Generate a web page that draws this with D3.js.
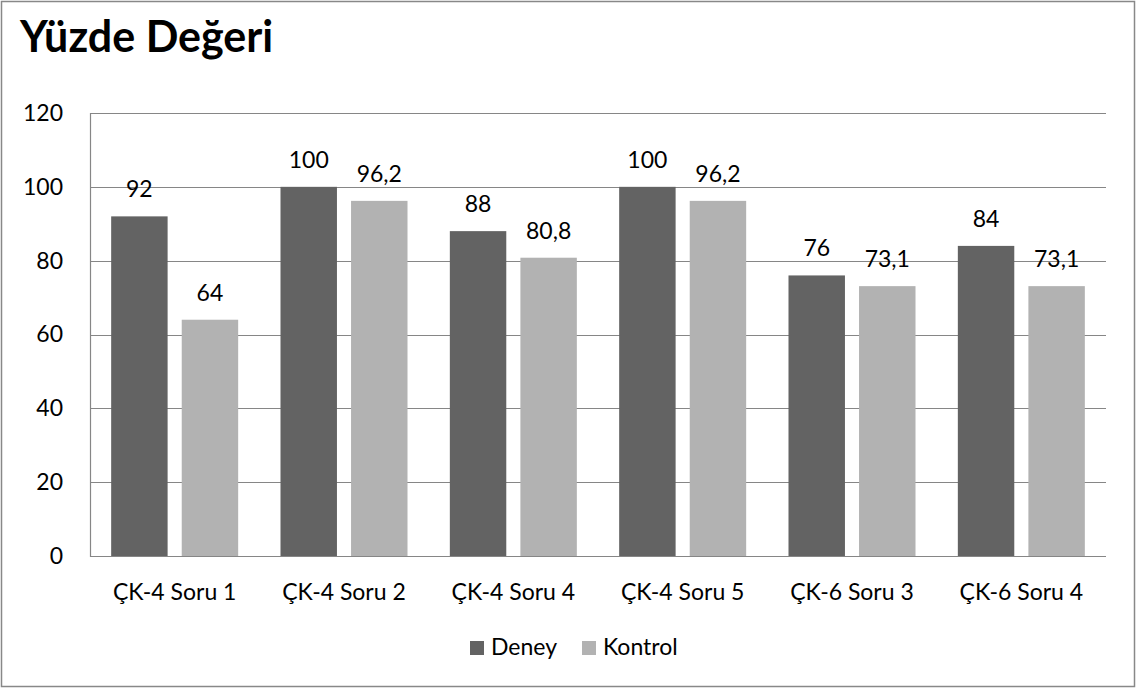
<!DOCTYPE html>
<html><head><meta charset="utf-8">
<script src="https://cdn.jsdelivr.net/npm/d3@7"></script>
<style>body{margin:0;background:#fff}svg{display:block}text{font-family:Lato,"Open Sans",sans-serif}</style>
</head><body>
<svg id="c" width="1136" height="688"></svg>
<script>
const categories = ["ÇK-4 Soru 1","ÇK-4 Soru 2","ÇK-4 Soru 4","ÇK-4 Soru 5","ÇK-6 Soru 3","ÇK-6 Soru 4"];
const seriesNames = ["Deney","Kontrol"];
const deney = [92,100,88,100,76,84];
const kontrol = [64,96.2,80.8,96.2,73.1,73.1];
const yTicks = [0,20,40,60,80,100,120];
const colors = {"Deney":"#636363","Kontrol":"#b2b2b2"};
const title = "Yüzde Değeri";

const FS = 23;
const svg = d3.select("#c");
const W=1136,H=688;
const L=90,R=1106,T=113,B=556;
svg.append("rect").attr("x",1.5).attr("y",1.5).attr("width",W-3).attr("height",H-3)
  .attr("fill","#fff").attr("stroke","#888").attr("stroke-width",1.5);

svg.append("text").attr("x",20).attr("y",52).attr("font-size",43).attr("font-weight",700)
  .attr("fill","#000").text(title);

const y = d3.scaleLinear().domain([0,120]).range([B,T]);
const x = d3.scaleBand().domain(categories).range([L,R]).padding(0);
const xs = d3.scaleBand().domain(seriesNames).range([0,x.bandwidth()]).paddingInner(0.2).paddingOuter(0.3);

const g = svg.append("g");
g.selectAll("line.grid").data(yTicks).join("line")
  .attr("x1",L).attr("x2",R).attr("y1",d=>Math.round(y(d))+0.5).attr("y2",d=>Math.round(y(d))+0.5)
  .attr("stroke","#868686").attr("stroke-width",1.2);
g.append("line").attr("x1",L+0.5).attr("x2",L+0.5).attr("y1",T).attr("y2",B+1)
  .attr("stroke","#868686").attr("stroke-width",1.2);

const yAxis = svg.append("g").attr("transform",`translate(${L},0)`)
  .call(d3.axisLeft(y).tickValues(yTicks).tickSize(0).tickPadding(27));
yAxis.select(".domain").remove();
yAxis.selectAll("text").attr("font-size",FS).attr("fill","#000").attr("font-family","Lato");

const xAxis = svg.append("g").attr("transform",`translate(0,${B})`)
  .call(d3.axisBottom(x).tickSize(0).tickPadding(28));
xAxis.select(".domain").remove();
xAxis.selectAll("text").attr("font-size",FS).attr("fill","#000").attr("font-family","Lato");

const data = [];
categories.forEach((c,i)=>{
  data.push({c,s:"Deney",v:deney[i]});
  data.push({c,s:"Kontrol",v:kontrol[i]});
});
svg.append("g").selectAll("rect").data(data).join("rect")
  .attr("x",d=>x(d.c)+xs(d.s)).attr("width",xs.bandwidth())
  .attr("y",d=>y(d.v)).attr("height",d=>B-y(d.v)).attr("fill",d=>colors[d.s]);

svg.append("g").selectAll("text").data(data).join("text")
  .attr("x",d=>x(d.c)+xs(d.s)+xs.bandwidth()/2).attr("y",d=>y(d.v)-19)
  .attr("text-anchor","middle").attr("font-size",FS).attr("fill","#000")
  .text(d=>String(d.v).replace(".",","));

const leg = svg.append("g");
const lx = [470,582];
seriesNames.forEach((s,i)=>{
  leg.append("rect").attr("x",lx[i]).attr("y",641).attr("width",14).attr("height",14).attr("fill",colors[s]);
  leg.append("text").attr("x",lx[i]+21).attr("y",655).attr("font-size",FS).attr("fill","#000").text(s);
});
</script>
</body></html>
